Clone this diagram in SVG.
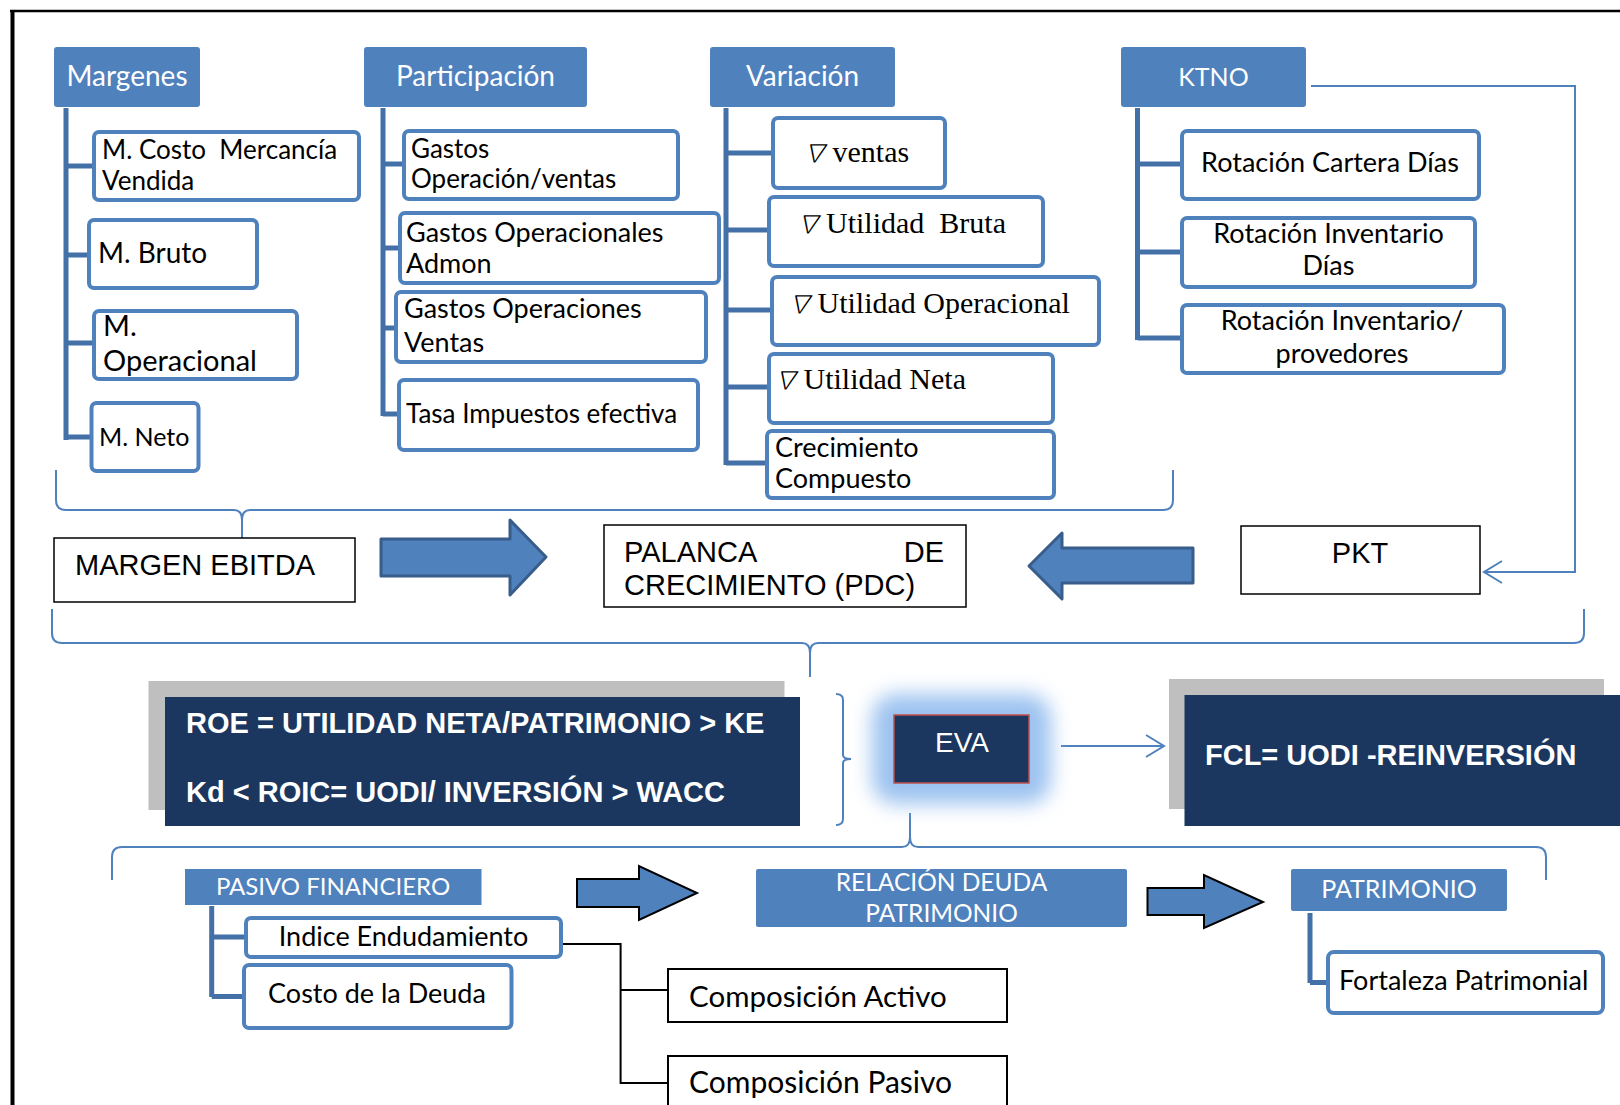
<svg xmlns="http://www.w3.org/2000/svg" width="1620" height="1105" viewBox="0 0 1620 1105">
<style>
.hdr{fill:#4F81BD}
.ht{font-family:Lato,"Liberation Sans",sans-serif;fill:#fff;text-anchor:middle}
.sub{fill:#fff;stroke:#4F81BD;stroke-width:4}
.st{font-family:Lato,"Liberation Sans",sans-serif;fill:#000}
.sf{font-family:"Liberation Serif","DejaVu Serif",serif;font-size:30px;fill:#000}
.nab{font-family:"Noto Sans CJK JP","DejaVu Serif",serif;font-style:italic;font-weight:300;font-size:25px;letter-spacing:-2px}
.trunk{fill:none;stroke:#4470A8;stroke-width:5}
.thin{fill:none;stroke:#4F81BD;stroke-width:2}
.blk{fill:#fff;stroke:#000;stroke-width:1.5}
.at{font-family:"Liberation Sans",Arial,sans-serif;font-size:29px;fill:#000}
.navy{fill:#1B375F}
.gray{fill:#BFBFBF}
.bt{font-family:"Liberation Sans",Arial,sans-serif;font-size:29px;font-weight:bold;fill:#fff}
.barrow{fill:#4F81BD;stroke:#385D8A;stroke-width:3;stroke-linejoin:round}
.karrow{fill:#4F81BD;stroke:#000;stroke-width:2}
</style>
<defs>
<filter id="glow" x="-50%" y="-50%" width="200%" height="200%"><feGaussianBlur stdDeviation="10"/></filter>
</defs>
<rect width="1620" height="1105" fill="#fff"/>
<g id="frame">
<line x1="10" y1="11" x2="1620" y2="11" stroke="#000" stroke-width="2.5"/>
<line x1="12.5" y1="10" x2="12.5" y2="1105" stroke="#000" stroke-width="4"/>
</g>

<g id="connectors">
<path class="trunk" d="M66,108 V440 M66,166 H94 M66,255 H89 M66,343 H94 M66,437 H92"/>
<path class="trunk" d="M383,108 V416 M383,164 H404 M383,248 H400 M383,328 H396 M383,414 H399"/>
<path class="trunk" d="M726,108 V465 M726,153 H773 M726,230 H769 M726,310 H772 M726,387 H769 M726,463 H767"/>
<path class="trunk" d="M1137.5,108 V340 M1137.5,164 H1182 M1137.5,252 H1182 M1137.5,338 H1182"/>
<path class="trunk" d="M211.7,906 V997 M211.7,937 H246 M211.7,996.5 H244"/>
<path class="trunk" d="M1310,913 V983 M1310,982.5 H1328"/>
<path class="thin" d="M1311,86 H1575 V572 H1484 M1502,561 L1484,572 L1502,583"/>
<path class="thin" d="M56,470 V500 Q56,510 66,510 H234 Q242,510 242,520 V550 M242,520 Q242,510 250,510 H1163 Q1173,510 1173,500 V470"/>
<path class="thin" d="M52,609 V633 Q52,643 62,643 H802 Q810,643 810,653 V677 M810,653 Q810,643 818,643 H1574 Q1584,643 1584,633 V609"/>
<path class="thin" d="M112,880 V857 Q112,847 122,847 H902 Q910,847 910,837 V813 M910,837 Q910,847 918,847 H1536 Q1546,847 1546,857 V880"/>
<path class="thin" d="M836,694 Q843,694 843,700 V755 Q843,759 851,759 Q843,759 843,763 V819 Q843,825 836,825"/>
<path class="thin" d="M1061,746 H1164 M1146,735 L1164,746 L1146,757"/>
<polygon class="barrow" points="381,539 510,539 510,520 546,557 510,595 510,576 381,576"/>
<polygon class="barrow" points="1193,548 1062,548 1062,533 1029,566 1062,599 1062,583 1193,583"/>
<polygon class="karrow" points="577,879 639,879 639,866 697,893 639,920 639,907 577,907"/>
<polygon class="karrow" points="1147.5,888 1204,888 1204,875 1263,902 1204,928 1204,915 1147.5,915"/>
<path fill="none" stroke="#000" stroke-width="2" d="M561,944 H620.6 V1083 H668 M620.6,990 H668"/>
</g>

<g id="margenes">
<rect class="hdr" x="54" y="47" width="146" height="60" rx="3"/>
<text class="ht" x="127" y="86" font-size="28">Margenes</text>
</g>
<g id="m-costo">
<rect class="sub" x="94" y="132" width="265" height="68" rx="5"/>
<text class="st" x="102" y="159" font-size="26" xml:space="preserve">M. Costo  Mercancía</text>
<text class="st" x="102" y="190" font-size="26">Vendida</text>
</g>
<g id="m-bruto">
<rect class="sub" x="89" y="220" width="168" height="68" rx="5"/>
<text class="st" x="98" y="263" font-size="28">M. Bruto</text>
</g>
<g id="m-operacional">
<rect class="sub" x="94" y="311" width="203" height="68" rx="5"/>
<text class="st" x="103" y="336" font-size="29">M.</text>
<text class="st" x="103" y="371" font-size="29">Operacional</text>
</g>
<g id="m-neto">
<rect class="sub" x="91.5" y="403" width="107" height="68" rx="5"/>
<text class="st" x="99" y="446" font-size="25">M. Neto</text>
</g>

<g id="participacion">
<rect class="hdr" x="364" y="47" width="223" height="60" rx="3"/>
<text class="ht" x="475.5" y="86" font-size="28">Participación</text>
</g>
<g id="gastos-op-ventas">
<rect class="sub" x="404" y="131" width="274" height="68" rx="5"/>
<text class="st" x="411" y="158" font-size="26">Gastos</text>
<text class="st" x="411" y="188" font-size="26">Operación/ventas</text>
</g>
<g id="gastos-admon">
<rect class="sub" x="400" y="213" width="319" height="70" rx="5"/>
<text class="st" x="406" y="242" font-size="27">Gastos Operacionales</text>
<text class="st" x="406" y="273" font-size="27">Admon</text>
</g>
<g id="gastos-ventas">
<rect class="sub" x="396" y="292" width="310" height="70" rx="5"/>
<text class="st" x="404" y="318" font-size="27">Gastos Operaciones</text>
<text class="st" x="404" y="352" font-size="27">Ventas</text>
</g>
<g id="tasa">
<rect class="sub" x="399" y="380" width="299" height="70" rx="5"/>
<text class="st" x="406" y="423" font-size="26">Tasa Impuestos efectiva</text>
</g>

<g id="variacion">
<rect class="hdr" x="710" y="47" width="185" height="60" rx="3"/>
<text class="ht" x="802.5" y="86" font-size="28">Variación</text>
</g>
<g id="v-ventas">
<rect class="sub" x="773" y="118" width="172" height="70" rx="5"/>
<text class="sf" x="802" y="162"><tspan class="nab">∇</tspan> ventas</text>
</g>
<g id="v-bruta">
<rect class="sub" x="769" y="197" width="274" height="69" rx="5"/>
<text class="sf" x="795.5" y="233" xml:space="preserve"><tspan class="nab">∇</tspan> Utilidad  Bruta</text>
</g>
<g id="v-operacional">
<rect class="sub" x="772" y="277" width="327" height="68" rx="5"/>
<text class="sf" x="787" y="313"><tspan class="nab">∇</tspan> Utilidad Operacional</text>
</g>
<g id="v-neta">
<rect class="sub" x="769" y="354" width="284" height="69" rx="5"/>
<text class="sf" x="773" y="389"><tspan class="nab">∇</tspan> Utilidad Neta</text>
</g>
<g id="crecimiento">
<rect class="sub" x="767" y="431" width="287" height="67" rx="5"/>
<text class="st" x="775" y="457" font-size="27">Crecimiento</text>
<text class="st" x="775" y="488" font-size="27">Compuesto</text>
</g>

<g id="ktno">
<rect class="hdr" x="1121" y="47" width="185" height="60" rx="3"/>
<text class="ht" x="1213.5" y="86" font-size="25">KTNO</text>
</g>
<g id="rot-cartera">
<rect class="sub" x="1182" y="131" width="297" height="68" rx="5"/>
<text class="st" x="1330" y="172" font-size="27" text-anchor="middle">Rotación Cartera Días</text>
</g>
<g id="rot-inventario">
<rect class="sub" x="1182" y="218" width="293" height="69" rx="5"/>
<text class="st" x="1328.5" y="243" font-size="27" text-anchor="middle">Rotación Inventario</text>
<text class="st" x="1328.5" y="275" font-size="27" text-anchor="middle">Días</text>
</g>
<g id="rot-proveedores">
<rect class="sub" x="1182" y="305" width="322" height="68" rx="5"/>
<text class="st" x="1342" y="330" font-size="27" text-anchor="middle">Rotación Inventario/</text>
<text class="st" x="1342" y="363" font-size="27" text-anchor="middle">provedores</text>
</g>

<g id="margen-ebitda">
<rect class="blk" x="54" y="538" width="301" height="64"/>
<text class="at" x="75" y="575">MARGEN EBITDA</text>
</g>
<g id="palanca">
<rect class="blk" x="604" y="525" width="362" height="82"/>
<text class="at" x="624" y="562">PALANCA</text>
<text class="at" x="944" y="562" text-anchor="end">DE</text>
<text class="at" x="624" y="595">CRECIMIENTO (PDC)</text>
</g>
<g id="pkt">
<rect class="blk" x="1241" y="526" width="239" height="68"/>
<text class="at" x="1360" y="563" text-anchor="middle">PKT</text>
</g>

<g id="roe">
<rect class="gray" x="148.5" y="681" width="636" height="129"/>
<rect class="navy" x="165" y="697" width="635" height="129"/>
<text class="bt" x="186" y="733">ROE = UTILIDAD NETA/PATRIMONIO &gt; KE</text>
<text class="bt" x="186" y="802">Kd &lt; ROIC= UODI/ INVERSIÓN &gt; WACC</text>
</g>
<g id="eva">
<rect x="872" y="694" width="179" height="110" rx="24" fill="#9CC2F0" filter="url(#glow)"/>
<rect class="navy" x="894" y="715" width="135" height="68" stroke="#C0504D" stroke-width="1.5"/>
<text x="962" y="752" font-family="'Liberation Sans',Arial,sans-serif" font-size="28" fill="#fff" text-anchor="middle">EVA</text>
</g>
<g id="fcl">
<rect class="gray" x="1169" y="679" width="435" height="130"/>
<rect class="navy" x="1184.5" y="695" width="440" height="131"/>
<text class="bt" x="1205" y="765">FCL= UODI -REINVERSIÓN</text>
</g>

<g id="pasivo-financiero">
<rect class="hdr" x="185" y="869" width="296.5" height="36"/>
<text class="ht" x="333" y="895" font-size="24">PASIVO FINANCIERO</text>
</g>
<g id="indice-endeudamiento">
<rect class="sub" x="246" y="918" width="315" height="39" rx="5"/>
<text class="st" x="403.5" y="946" font-size="27" text-anchor="middle">Indice Endudamiento</text>
</g>
<g id="costo-deuda">
<rect class="sub" x="244" y="965" width="267.5" height="63" rx="5"/>
<text class="st" x="377" y="1003" font-size="27" text-anchor="middle">Costo de la Deuda</text>
</g>
<g id="relacion-deuda">
<rect class="hdr" x="756" y="869" width="371" height="58" rx="2"/>
<text class="ht" x="941.5" y="891" font-size="24.5">RELACIÓN DEUDA</text>
<text class="ht" x="941.5" y="922" font-size="24.5">PATRIMONIO</text>
</g>
<g id="patrimonio">
<rect class="hdr" x="1291" y="869" width="216" height="42" rx="2"/>
<text class="ht" x="1399" y="898" font-size="25">PATRIMONIO</text>
</g>
<g id="fortaleza">
<rect class="sub" x="1328" y="952" width="275" height="61" rx="6"/>
<text class="st" x="1339" y="990" font-size="27">Fortaleza Patrimonial</text>
</g>
<g id="comp-activo">
<rect x="668" y="969" width="339" height="53" fill="#fff" stroke="#000" stroke-width="2"/>
<text class="st" x="689" y="1007" font-size="29.5">Composición Activo</text>
</g>
<g id="comp-pasivo">
<rect x="668" y="1056" width="339" height="70" fill="#fff" stroke="#000" stroke-width="2"/>
<text class="st" x="689" y="1093" font-size="30">Composición Pasivo</text>
</g>
</svg>
